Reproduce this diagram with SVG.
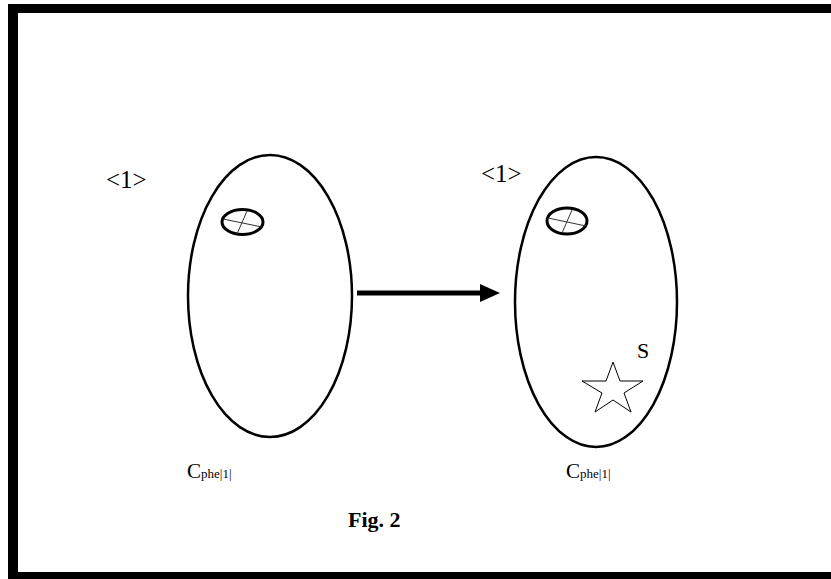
<svg xmlns="http://www.w3.org/2000/svg" width="831" height="579" viewBox="0 0 831 579">
<defs>
<style>
.cell{fill:none;stroke:#000;stroke-width:2.5}
.nuc{fill:none;stroke:#000;stroke-width:3}
.x{stroke:#333;stroke-width:1}
.t{font-family:"Liberation Serif",serif;fill:#000}
.sub{font-size:13px}
</style>
</defs>
<rect x="0" y="0" width="831" height="579" fill="#fff"/>
<g id="frame" fill="#000">
<rect x="8" y="4" width="823" height="9"/>
<rect x="8" y="4" width="10" height="575"/>
<rect x="8" y="572" width="823" height="7"/>
</g>
<g id="cell-left">
<ellipse class="cell" cx="270" cy="296" rx="82" ry="141"/>
<ellipse class="nuc" cx="242.5" cy="222" rx="20.5" ry="12.5"/>
<line class="x" x1="223" y1="219" x2="262" y2="227"/>
<line class="x" x1="247" y1="211" x2="237" y2="234"/>
<text class="t" x="106" y="188" font-size="25">&lt;1&gt;</text>
<text class="t" x="187" y="478" font-size="21">C<tspan class="sub">phe|1|</tspan></text>
</g>
<g id="cell-right">
<ellipse class="cell" cx="596" cy="302" rx="81" ry="145"/>
<ellipse class="nuc" cx="567" cy="221" rx="20" ry="13"/>
<line class="x" x1="548" y1="218" x2="586" y2="226"/>
<line class="x" x1="572" y1="210" x2="562" y2="233"/>
<text class="t" x="481" y="182" font-size="25">&lt;1&gt;</text>
<text class="t" x="566" y="478" font-size="21">C<tspan class="sub">phe|1|</tspan></text>
<polygon points="613,362 620,381 643,381 624,393 631,412 613,400 595,412 602,393 582,381 606,381" fill="#fff" stroke="#000" stroke-width="1"/>
<text class="t" x="637" y="358" font-size="22">S</text>
</g>
<g id="connectors">
<line x1="357" y1="293" x2="482" y2="293" stroke="#000" stroke-width="5"/>
<polygon points="480,284 500,293 480,302" fill="#000"/>
</g>
<text class="t" x="348" y="527" font-size="22" font-weight="bold">Fig. 2</text>
</svg>
